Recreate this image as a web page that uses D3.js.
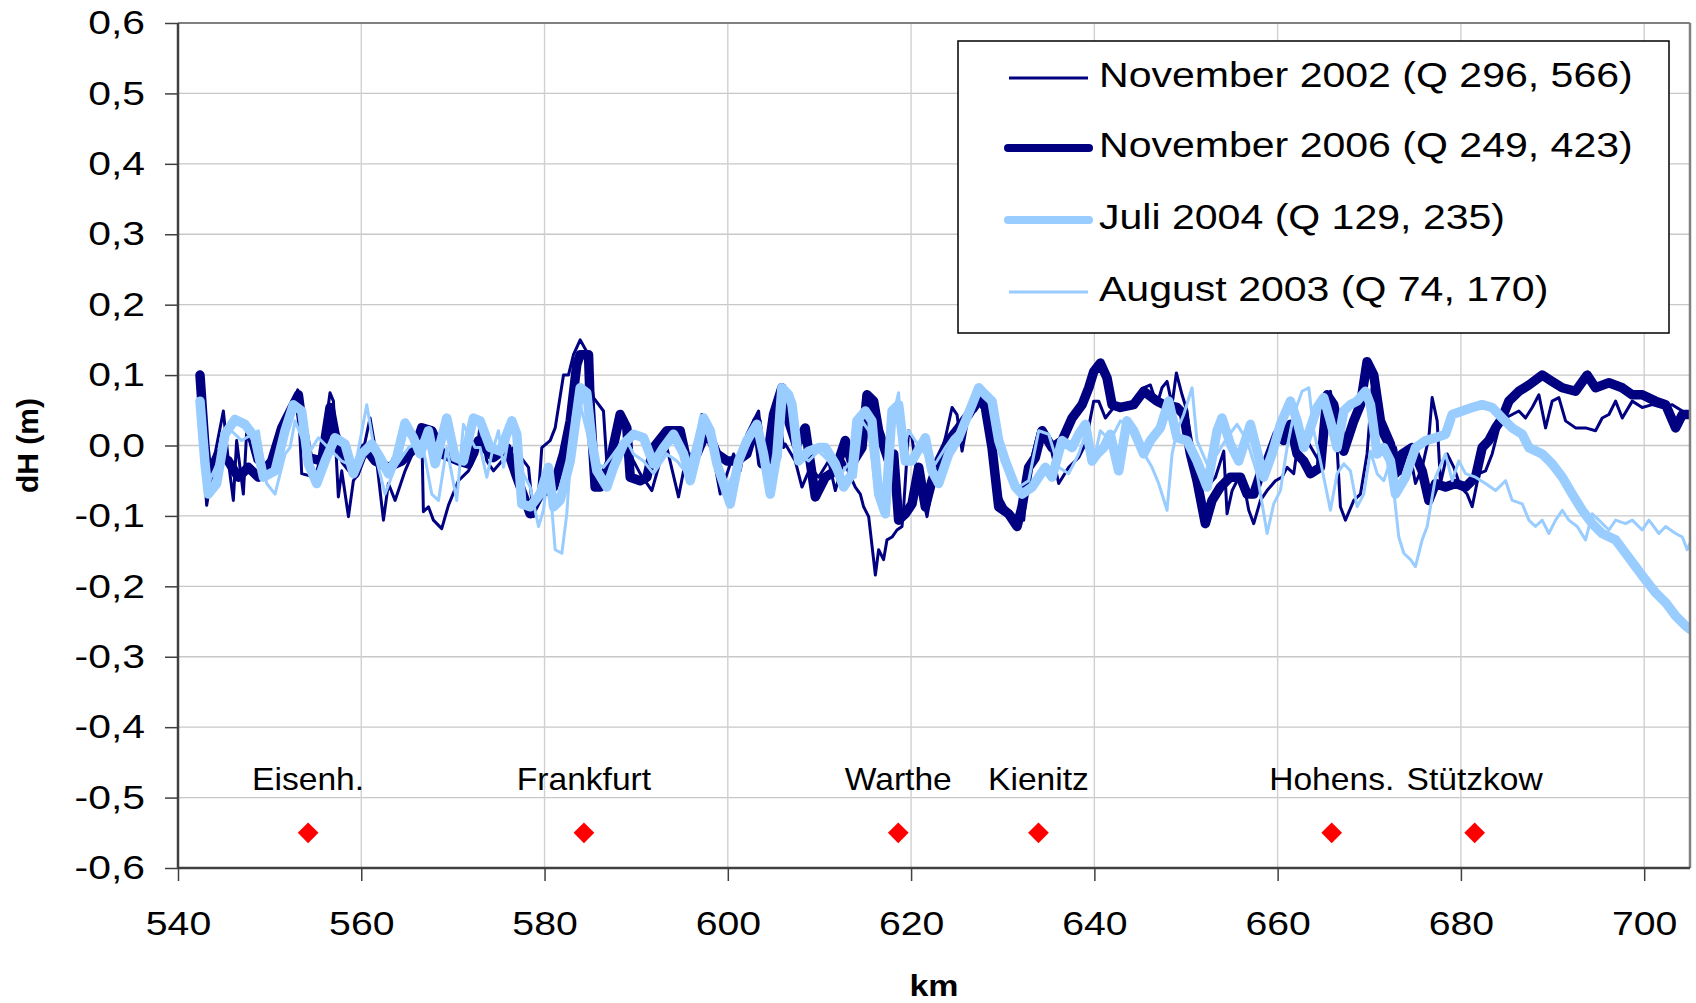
<!DOCTYPE html>
<html><head><meta charset="utf-8">
<script src="https://cdn.jsdelivr.net/npm/d3@7"></script>
<style>
body{margin:0;background:#fff;}
svg{display:block;}
text{font-family:"Liberation Sans",Arial,sans-serif;fill:#000;}
</style>
</head><body>
<svg id="chart" width="1696" height="1003"></svg>
<script>
// ---------- DATA (km, dH in m) ----------
const nov2002 = [
[542.4,0.058],[543.13,-0.085],[544.04,-0.012],[544.95,0.049],[545.49,-0.022],[546.04,-0.078],[546.4,0.007],[547.13,-0.069],[547.5,0.021],[548.41,-0.022],[549.13,-0.031],[550.23,-0.04],[551.68,0.025],[553.06,0.079],[553.5,-0.04],[554.96,-0.045],[555.68,-0.012],[556.59,0.075],[556.96,0.063],[557.5,-0.073],[557.87,-0.036],[558.6,-0.101],[559.14,-0.05],[559.69,-0.04],[560.96,0.039],[561.51,-0.003],[562.42,-0.106],[562.96,-0.054],[563.69,-0.078],[564.78,-0.036],[565.87,-0.003],[566.6,0.021],[566.78,-0.094],[567.33,-0.087],[567.87,-0.106],[568.78,-0.118],[569.51,-0.085],[570.6,-0.05],[571.7,-0.036],[572.61,-0.012],
[572.97,0.03],[573.7,-0.022],[574.43,-0.036],[576.61,-0.003],[578.25,-0.031],[578.79,-0.101],[579.34,-0.069],[579.7,-0.003],[580.61,0.007],[581.16,0.025],[582.07,0.1],[582.61,0.1],[583.16,0.129],[583.89,0.15],[584.61,0.133],[585.34,0.068],[586.43,0.049],[586.8,-0.026],[587.53,-0.026],[588.62,0.007],[589.71,-0.022],[590.44,-0.04],[591.71,-0.064],[592.62,-0.022],[593.35,-0.003],[594.62,-0.073],[595.17,-0.036],[596.26,-0.045],[597.17,0.044],[598.08,0.011],[599.17,-0.069],[600.63,-0.012],[601.35,-0.036],[602.08,0.016],[603.36,0.049],[603.9,-0.026],[604.81,0.044],[605.36,0.068],[606.08,-0.003],
[606.27,0.002],[607.36,-0.022],[608.09,-0.059],[609.0,-0.031],[609.91,-0.045],[611.0,-0.022],[611.73,-0.064],[612.64,-0.022],[613.91,-0.059],[614.46,-0.069],[614.82,-0.087],[615.37,-0.101],[615.91,-0.162],[616.1,-0.184],[616.46,-0.148],[617.0,-0.162],[617.37,-0.134],[617.92,-0.13],[618.46,-0.12],[619.01,-0.115],[619.19,-0.087],[619.73,0.021],[620.1,0.011],[620.64,-0.04],[621.19,-0.069],[621.74,-0.101],[622.28,-0.059],[623.01,-0.022],[623.74,0.011],[624.47,0.054],[625.01,0.044],[625.56,-0.008],[626.28,0.044],[627.01,0.049],[627.74,0.063],[628.47,0.044],[629.56,-0.069],[630.29,-0.087],[631.38,-0.101],[632.29,-0.106],[632.83,-0.036],[633.93,0.021],[635.02,0.011],[636.11,-0.054],[637.2,-0.031],[638.29,-0.017],[639.02,0.002],[639.93,0.063],
[640.47,0.063],[641.2,0.039],[642.11,0.054],[643.2,0.058],[644.29,0.063],[645.38,0.082],[646.11,0.086],[646.84,0.058],[647.38,0.082],[647.93,0.091],[648.48,0.058],[648.95,0.103],[649.57,0.072],[650.11,0.049],[650.66,-0.012],[651.57,-0.045],[652.3,-0.059],[653.21,-0.045],[654.12,-0.008],[654.48,-0.097],[655.03,-0.064],[655.57,-0.05],[656.3,-0.054],[656.85,-0.092],[657.39,-0.111],[658.12,-0.078],[658.85,-0.064],[659.76,-0.05],[660.48,-0.045],[661.03,-0.031],[661.76,-0.04],[662.3,0.011],[663.21,0.007],[664.67,-0.026],[665.76,0.077],[666.49,-0.003],[666.85,-0.087],[667.4,-0.106],[668.31,-0.078],[669.04,-0.069],[669.76,-0.012],[670.31,0.082],[670.86,0.025],[671.95,-0.003],
[672.86,-0.003],[673.41,-0.04],[674.32,-0.003],[675.04,-0.054],[675.77,-0.031],[676.5,0.011],[676.86,0.068],[677.41,0.035],[677.77,-0.054],[678.5,-0.012],[679.23,-0.031],[679.96,-0.059],[680.68,-0.069],[681.23,-0.087],[681.96,-0.04],[682.69,-0.036],[683.41,-0.012],[684.14,0.025],[684.87,0.039],[685.6,0.044],[686.32,0.049],[687.05,0.039],[687.78,0.054],[688.51,0.072],[689.24,0.025],[689.96,0.063],[690.69,0.068],[691.42,0.035],[692.51,0.025],[693.6,0.025],[694.69,0.021],[695.42,0.039],[696.15,0.044],[696.88,0.063],[697.61,0.039],[698.7,0.063],[699.79,0.054],[700.88,0.058],[701.97,0.054],[703.06,0.058],[704.16,0.049],[705.0,0.044]
];
const nov2006 = [
[542.4,0.1],[542.95,-0.003],[543.31,-0.045],[544.4,-0.012],[545.49,-0.022],[546.59,-0.045],[547.68,-0.031],[548.77,-0.045],[550.23,-0.022],[551.32,0.025],[553.14,0.072],[553.5,0.035],[554.23,-0.017],[555.68,-0.022],[556.59,0.054],[557.14,0.016],[558.23,-0.022],[559.32,-0.04],[560.41,-0.003],[561.51,-0.022],[562.96,-0.031],[564.42,-0.022],[565.87,-0.003],[566.6,0.025],[567.69,0.021],[568.78,-0.012],[570.6,-0.022],[571.7,-0.026],[572.79,0.007],
[574.43,-0.017],[575.88,-0.003],[576.97,-0.045],[578.43,-0.097],[579.52,-0.069],[580.98,-0.059],[582.07,-0.012],[582.8,0.035],[583.52,0.115],[583.89,0.129],[584.8,0.129],[584.98,0.058],[585.52,-0.059],[586.07,-0.059],[587.16,-0.022],[588.25,0.044],[588.98,0.025],[589.35,-0.045],[590.44,-0.05],[591.17,-0.045],[591.89,-0.003],[593.35,0.021],[594.8,0.021],[595.53,-0.022],[596.62,-0.012],[597.72,0.021],[598.81,-0.012],[599.9,-0.022],[600.99,-0.022],[602.08,-0.012],[603.17,0.035],[603.72,-0.026],[604.27,-0.022],[604.99,0.044],[605.9,0.082],[606.63,0.035],
[607.5,0.0],[608.45,0.025],[609.18,-0.04],[609.55,-0.073],[610.64,-0.045],[611.73,-0.036],[612.82,0.007],[613.55,-0.026],[614.64,-0.003],[615.19,0.072],[615.91,0.063],[616.46,0.021],[617.55,-0.022],[618.1,-0.012],[618.64,-0.106],[619.37,-0.097],[620.1,-0.083],[620.83,-0.031],[621.55,-0.087],[622.28,-0.05],[623.01,-0.022],[624.1,0.007],[625.19,0.025],[626.28,0.044],[627.38,0.068],[628.1,0.054],[628.83,-0.003],[629.56,-0.087],[630.65,-0.097],[631.56,-0.115],[632.11,-0.087],[632.83,-0.031],[633.56,-0.017],[634.29,0.021],[635.38,-0.003],[636.47,0.007],[637.57,0.039],[638.66,0.058],[639.39,0.082],[639.93,0.105],
[640.65,0.117],[641.38,0.096],[641.93,0.058],[642.84,0.054],[644.29,0.058],[645.38,0.077],[646.84,0.063],[647.57,0.058],[649.02,0.054],[649.75,0.044],[650.48,-0.012],[651.2,-0.05],[652.11,-0.111],[652.84,-0.078],[653.75,-0.059],[654.84,-0.045],[655.94,-0.045],[656.66,-0.069],[657.39,-0.069],[658.12,-0.04],[658.85,-0.022],[659.94,0.016],[660.67,0.007],[661.39,0.03],[662.12,-0.012],[662.85,-0.022],[663.58,-0.04],[664.67,-0.031],[665.4,0.072],[666.12,0.058],[667.22,-0.008],[668.31,0.035],[669.04,0.058],[669.76,0.119],[670.49,0.1],[671.22,0.035],[672.31,0.002],
[672.86,-0.04],[673.59,-0.012],[674.68,-0.003],[675.77,-0.036],[676.5,-0.078],[677.23,-0.054],[678.32,-0.059],[679.41,-0.054],[680.5,-0.059],[681.59,-0.045],[682.32,-0.003],[683.05,0.007],[683.78,0.025],[684.5,0.039],[685.23,0.063],[686.32,0.077],[687.42,0.086],[688.87,0.1],[689.96,0.091],[691.06,0.082],[692.51,0.077],[693.78,0.1],[694.69,0.082],[696.15,0.089],[697.61,0.082],[698.7,0.072],[699.79,0.072],[701.24,0.063],[702.34,0.058],[703.43,0.025],[704.16,0.044],[705.0,0.044]
];
const juli2004 = [
[542.4,0.063],[542.95,-0.026],[543.31,-0.069],[544.22,-0.054],[545.13,0.016],[546.22,0.037],[547.31,0.03],[548.41,0.011],[549.32,-0.045],[550.59,-0.036],[551.68,0.021],[552.59,0.058],[553.5,0.049],[554.23,-0.026],[555.14,-0.054],[556.05,-0.022],[557.14,0.011],[558.23,0.002],[559.14,-0.04],[560.05,-0.012],[561.14,0.002],[562.05,-0.017],[562.96,-0.04],[563.87,-0.017],[564.78,0.032],[565.69,0.011],[566.42,-0.012],[567.33,0.021],[568.06,-0.026],[569.33,0.039],[570.24,-0.017],[571.15,-0.022],[572.24,0.039],
[572.97,0.035],[574.06,-0.003],[575.15,-0.008],[576.43,0.035],[576.97,0.016],[577.52,-0.083],[578.43,-0.087],[579.52,-0.069],[580.43,-0.031],[580.98,-0.087],[581.7,-0.078],[582.8,-0.022],[583.89,0.082],[584.61,0.075],[585.16,0.007],[585.71,-0.036],[586.8,-0.059],[587.53,-0.031],[588.62,0.002],[589.71,0.016],[590.8,0.011],[591.89,-0.026],[592.98,-0.003],[594.08,0.016],[595.17,-0.012],[595.9,-0.05],[596.62,-0.012],[597.35,0.039],[598.08,0.021],[598.81,-0.026],[600.26,-0.083],[601.17,-0.022],[602.08,0.007],[603.17,0.03],[603.9,-0.012],[604.63,-0.069],[605.36,-0.012],[605.9,0.082],[606.63,0.072],
[607.0,0.058],[607.73,-0.022],[608.82,-0.008],[609.91,-0.003],[610.64,-0.003],[611.73,-0.026],[612.64,-0.059],[613.55,-0.04],[614.09,0.035],[615.0,0.049],[615.73,0.035],[616.46,-0.069],[617.19,-0.097],[617.92,0.049],[618.64,0.058],[619.37,-0.022],[620.1,-0.022],[621.55,0.011],[622.28,-0.036],[623.01,-0.054],[624.1,-0.012],[625.19,0.011],[626.65,0.058],[627.38,0.082],[628.1,0.072],[628.83,0.063],[629.56,0.007],[630.29,-0.022],[631.38,-0.059],[632.11,-0.069],[633.2,-0.059],[633.93,-0.045],[634.65,-0.031],[635.38,-0.045],[636.47,0.007],[637.57,-0.003],[638.29,0.016],[639.02,0.03],[639.75,-0.022],
[640.29,-0.012],[641.02,-0.003],[641.74,0.016],[642.65,-0.036],[643.56,0.035],[644.29,0.021],[645.38,-0.012],[646.11,0.007],[647.2,0.025],[648.11,0.063],[649.02,0.011],[650.11,0.007],[651.2,-0.022],[652.3,-0.059],[653.39,0.021],[653.93,0.039],[654.84,0.002],[655.75,-0.022],[657.03,0.03],[657.76,-0.008],[658.48,-0.045],[659.39,-0.012],[660.3,0.03],[661.39,0.063],[662.12,0.035],[662.85,-0.003],[663.58,0.025],[664.31,0.054],[665.03,0.068],[665.76,0.035],[666.49,-0.003],[667.22,0.049],[667.94,0.058],[668.67,0.063],[669.58,0.077],[670.13,0.058],[670.86,-0.012],[671.58,-0.003],[672.31,-0.022],
[672.86,-0.069],[673.95,-0.045],[675.04,-0.003],[676.14,0.007],[677.23,0.011],[678.32,0.016],[679.05,0.044],[680.14,0.049],[681.23,0.054],[682.32,0.058],[683.41,0.054],[684.5,0.039],[685.6,0.025],[686.69,0.016],[687.42,-0.003],[688.87,-0.012],[689.96,-0.026],[691.06,-0.045],[692.15,-0.069],[693.24,-0.092],[694.33,-0.111],[695.42,-0.125],[696.88,-0.134],[697.97,-0.153],[699.06,-0.172],[700.15,-0.191],[701.24,-0.209],[702.34,-0.223],[703.43,-0.242],[704.52,-0.256],[705.0,-0.261]
];
const aug2003 = [
[542.4,0.054],[543.13,-0.059],[544.4,-0.022],[545.49,0.025],[546.95,0.007],[548.77,0.021],[549.68,-0.054],[550.59,-0.069],[551.68,-0.012],[552.23,-0.003],[552.77,0.035],[554.23,-0.012],[555.32,0.011],[556.78,-0.008],[557.87,-0.022],[559.32,-0.031],[560.6,0.058],[561.51,-0.012],[562.6,-0.069],[563.69,-0.031],[565.15,-0.003],[566.6,0.007],[567.69,-0.069],[568.42,-0.078],[569.33,-0.003],[570.42,-0.078],[571.15,0.03],[572.42,-0.003],
[572.97,-0.003],[573.7,-0.045],[574.24,-0.012],[574.97,0.021],[575.52,-0.031],[576.43,0.039],[577.34,-0.031],[578.43,-0.059],[579.34,-0.115],[579.88,-0.092],[580.43,-0.031],[581.16,-0.148],[581.89,-0.153],[582.43,-0.097],[583.16,0.044],[583.89,0.058],[584.61,0.021],[585.34,-0.022],[586.43,-0.031],[587.53,-0.012],[588.8,0.011],[589.71,-0.012],[590.8,-0.022],[591.89,-0.04],[593.35,-0.012],[594.44,-0.022],[595.53,-0.04],[596.99,0.035],[598.44,-0.003],[599.53,-0.069],[600.63,-0.04],[602.08,-0.003],[603.17,0.025],[604.63,-0.05],[605.72,-0.017],[606.27,0.068],
[607.36,0.049],[607.91,-0.012],[608.82,-0.022],[609.91,-0.008],[611.0,-0.022],[612.09,-0.045],[613.18,-0.026],[613.91,-0.045],[614.64,0.035],[615.37,0.021],[616.1,-0.059],[616.82,-0.087],[617.37,-0.101],[617.92,0.035],[618.64,0.075],[619.01,-0.012],[619.73,0.021],[620.46,0.007],[621.55,-0.012],[622.65,-0.026],[623.74,-0.003],[624.47,0.011],[625.56,0.025],[626.65,0.063],[627.74,0.077],[628.83,0.054],[629.92,-0.022],[631.02,-0.036],[631.74,-0.059],[632.83,-0.05],[633.93,0.021],[635.02,0.016],[636.11,-0.031],[637.2,-0.04],[638.29,-0.012],[639.02,0.016],[639.93,-0.022],
[640.65,0.021],[641.74,0.007],[642.84,0.035],[643.93,0.025],[645.02,-0.003],[646.29,-0.031],[647.02,-0.054],[647.93,-0.092],[648.48,-0.012],[649.02,0.021],[649.75,0.044],[650.66,0.082],[651.2,0.007],[652.3,-0.026],[653.39,-0.012],[654.48,0.011],[655.57,0.03],[656.66,0.007],[657.76,-0.04],[658.85,-0.125],[659.57,-0.083],[660.3,-0.064],[661.03,-0.003],[661.76,0.044],[662.67,0.077],[663.4,0.082],[663.94,0.021],[664.67,-0.022],[665.76,-0.092],[666.49,-0.04],[667.22,-0.026],[667.94,-0.036],[668.67,-0.087],[669.4,-0.069],[670.13,-0.008],[670.86,-0.04],[671.58,-0.05],[672.31,-0.022],[672.86,-0.087],
[673.22,-0.13],[673.77,-0.153],[674.5,-0.162],[675.04,-0.172],[675.77,-0.134],[676.32,-0.115],[676.68,-0.087],[677.23,-0.045],[678.32,-0.012],[679.05,-0.05],[679.77,-0.022],[680.5,-0.04],[681.59,-0.045],[682.69,-0.054],[683.78,-0.064],[684.87,-0.05],[685.6,-0.078],[686.69,-0.083],[687.42,-0.106],[688.14,-0.115],[688.87,-0.106],[689.6,-0.125],[690.33,-0.106],[691.06,-0.092],[691.78,-0.106],[692.69,-0.115],[693.6,-0.134],[694.33,-0.097],[695.06,-0.106],[696.15,-0.12],[696.88,-0.106],[697.97,-0.111],[698.7,-0.106],[699.79,-0.12],[700.52,-0.106],[701.61,-0.125],[702.34,-0.115],[703.43,-0.125],[704.16,-0.13],[704.7,-0.148],[705.0,-0.139]
];
const seriesNames = ["November 2002 (Q 296, 566)","November 2006 (Q 249, 423)","Juli 2004 (Q 129, 235)","August 2003 (Q 74, 170)"];
const xTicks = [540,560,580,600,620,640,660,680,700];
const yTicks = [-0.6,-0.5,-0.4,-0.3,-0.2,-0.1,0,0.1,0.2,0.3,0.4,0.5,0.6];
const stationNames = ["Eisenh.","Frankfurt","Warthe","Kienitz","Hohens.","Stützkow"];
const stationKm = [554.2,584.3,618.6,633.9,665.9,681.5];
const stationDH = [-0.55,-0.55,-0.55,-0.55,-0.55,-0.55];

// ---------- STYLE ----------
const NAVY = "#000080", LIGHT = "#99CCFF";
const seriesColors = [NAVY, NAVY, LIGHT, LIGHT];
const seriesWidths = [3, 9.5, 9.5, 3];
const SX = 1.17;

const svg = d3.select("#chart");
svg.append("rect").attr("width",1696).attr("height",1003).attr("fill","#fff");

const x = d3.scaleLinear().domain([540,705]).range([178,1690]);
const y = d3.scaleLinear().domain([-0.6,0.6]).range([868,23]);

// gridlines
const grid = svg.append("g");
grid.selectAll("line.h").data(yTicks.filter(v=>v>-0.55 && v<0.55)).join("line")
  .attr("x1",x(540)).attr("x2",x(705)).attr("y1",d=>y(d)).attr("y2",d=>y(d))
  .attr("stroke","#c8c8c8").attr("stroke-width",1.4);
grid.selectAll("line.v").data(xTicks.filter(v=>v>540)).join("line")
  .attr("y1",y(0.6)).attr("y2",y(-0.6)).attr("x1",d=>x(d)).attr("x2",d=>x(d))
  .attr("stroke","#d0d0d0").attr("stroke-width",1.4);

// clip
svg.append("clipPath").attr("id","plotclip").append("rect")
  .attr("x",x(540)).attr("y",y(0.6)).attr("width",x(705)-x(540)).attr("height",y(-0.6)-y(0.6));

const line = d3.line().x(d=>x(d[0])).y(d=>y(d[1]));
const allSeries = [nov2002, nov2006, juli2004, aug2003];
svg.append("g").attr("clip-path","url(#plotclip)")
  .selectAll("path").data(allSeries).join("path")
  .attr("d",line).attr("fill","none")
  .attr("stroke",(d,i)=>seriesColors[i]).attr("stroke-width",(d,i)=>seriesWidths[i])
  .attr("stroke-linejoin","round").attr("stroke-linecap","round");

// stations
svg.append("g").selectAll("path").data(stationKm).join("path")
  .attr("d", d3.symbol(d3.symbolSquare, 215)())
  .attr("transform",(d,i)=>`translate(${x(d)},${y(stationDH[i])}) rotate(45)`)
  .attr("fill","#ff0000");
svg.append("g").selectAll("text").data(stationNames).join("text")
  .attr("transform",(d,i)=>`translate(${x(stationKm[i])},${y(stationDH[i])-43}) scale(1.05,1)`)
  .attr("text-anchor","middle").attr("font-size",32).text(d=>d);

// frame: top and right border
svg.append("line").attr("x1",x(540)).attr("x2",x(705)).attr("y1",y(0.6)).attr("y2",y(0.6))
  .attr("stroke","#808080").attr("stroke-width",2);
svg.append("line").attr("x1",x(705)).attr("x2",x(705)).attr("y1",y(0.6)).attr("y2",y(-0.6))
  .attr("stroke","#808080").attr("stroke-width",2.5);

// axes
const fmt = v => d3.format(".1f")(v).replace("−","-").replace(".",",").replace(/^-0,0$/,"0,0");
const yAxis = d3.axisLeft(y).tickValues(yTicks).tickFormat(fmt).tickSize(13).tickPadding(20);
const gy = svg.append("g").attr("transform",`translate(${x(540)},0)`).call(yAxis);
const xAxis = d3.axisBottom(x).tickValues(xTicks).tickFormat(d3.format("d")).tickSize(13).tickPadding(30);
const gx = svg.append("g").attr("transform",`translate(0,${y(-0.6)})`).call(xAxis);
[gy,gx].forEach(g=>{
  g.select(".domain").attr("stroke","#404040").attr("stroke-width",2.5);
  g.selectAll(".tick line").attr("stroke","#404040").attr("stroke-width",1.5);
  g.selectAll(".tick text").attr("font-size",33.5).attr("font-family","'Liberation Sans',Arial,sans-serif").attr("fill","#000");
});
gx.select(".domain").attr("d",`M${x(540)},0H${x(705)}`);
gy.select(".domain").attr("d",`M0,${y(0.6)}V${y(-0.6)}`);
const SXY = 1.22;
gy.selectAll(".tick text").attr("x",function(){return +this.getAttribute("x")/SXY;}).attr("transform",`scale(${SXY},1)`);
gx.selectAll(".tick text").attr("transform",`scale(${SX},1)`);

// axis titles
svg.append("text").attr("transform",`translate(${(x(540)+x(705))/2},${996}) scale(${SX},1)`)
  .attr("text-anchor","middle").attr("font-size",29).attr("font-weight","bold").text("km");
svg.append("text").attr("transform",`translate(38,${(y(0.6)+y(-0.6))/2}) rotate(-90)`)
  .attr("text-anchor","middle").attr("font-size",30).attr("font-weight","bold").text("dH (m)");

// legend
const lg = svg.append("g");
lg.append("rect").attr("x",958).attr("y",41).attr("width",711).attr("height",292)
  .attr("fill","#fff").attr("stroke","#000").attr("stroke-width",1.5);
const rowY = [78,148,220,292];
const rows = lg.selectAll("g.row").data(seriesNames).join("g");
rows.append("line").attr("x1",(d,i)=>seriesWidths[i]>5?1008:1009).attr("x2",(d,i)=>seriesWidths[i]>5?1089:1088)
  .attr("y1",(d,i)=>rowY[i]).attr("y2",(d,i)=>rowY[i])
  .attr("stroke",(d,i)=>seriesColors[i]).attr("stroke-width",(d,i)=>seriesWidths[i]>5?8:3)
  .attr("stroke-linecap",(d,i)=>seriesWidths[i]>5?"round":"butt");
rows.append("text").attr("transform",(d,i)=>`translate(1099,${rowY[i]+9}) scale(1.14,1)`)
  .attr("font-size",36).text(d=>d);
</script>
</body></html>
